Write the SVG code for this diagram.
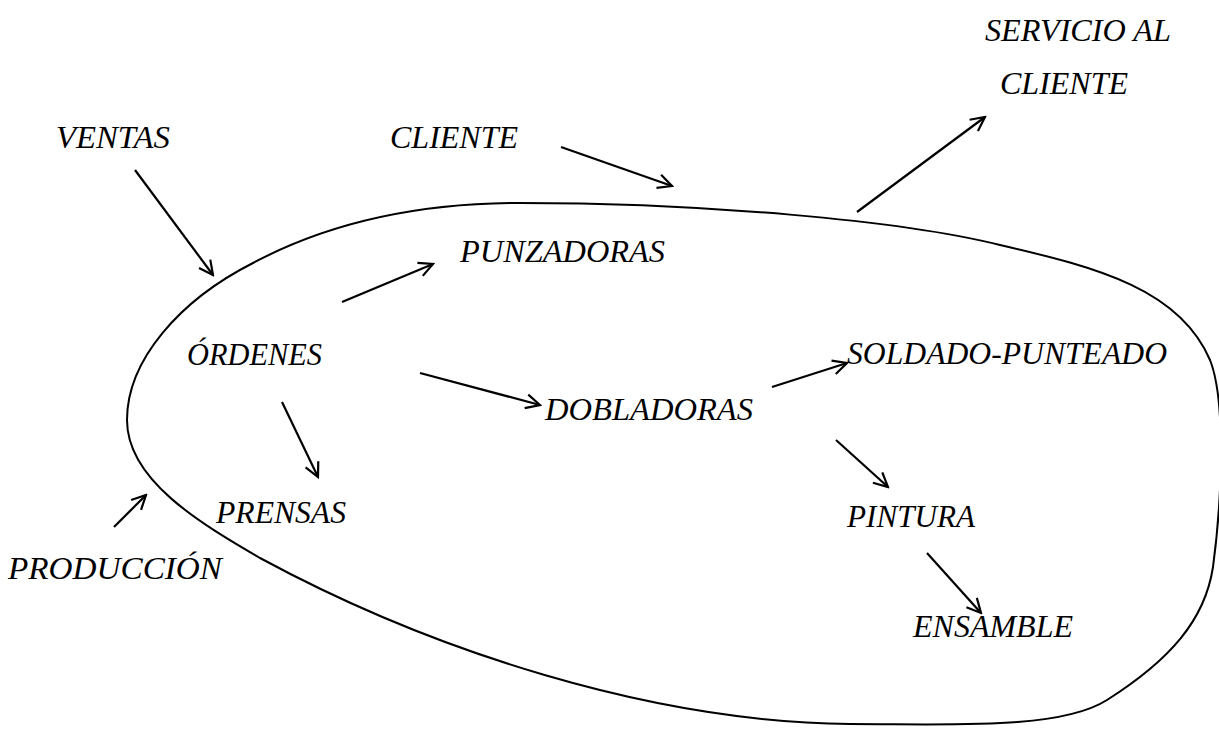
<svg xmlns="http://www.w3.org/2000/svg" width="1219" height="733" viewBox="0 0 1219 733">
<style>
text{font-family:"Liberation Serif","Times New Roman",serif;font-style:italic;font-size:31px;fill:#000}
.c{fill:none;stroke:#000;stroke-width:2}
.a{fill:none;stroke:#000;stroke-width:2.2;marker-end:url(#h)}
</style>
<defs>
<marker id="h" viewBox="0 0 20 20" refX="18" refY="10" markerWidth="20" markerHeight="20" markerUnits="userSpaceOnUse" orient="auto">
<path d="M4,3 L18,10 L4,17" fill="none" stroke="#000" stroke-width="2.2"/>
</marker>
</defs>
<rect width="1219" height="733" fill="#fff"/>
<g id="boundary">
<path class="c" d="M127,420 C127,360 180,300 253,263 C330,222 420,203 520,203 C700,203 900,220 1000,245 C1100,268 1180,290 1210,360 C1226,400 1222,500 1213,567 C1205,620 1170,660 1107,700 C1060,730 950,724 850,724 C650,722 430,650 260,558 C200,523 127,480 127,420 Z"/>
</g>
<g id="servicio"><text x="985" y="41" textLength="186" lengthAdjust="spacingAndGlyphs">SERVICIO AL</text><text x="1000" y="94" textLength="128" lengthAdjust="spacingAndGlyphs">CLIENTE</text></g>
<g id="ventas"><text x="56" y="148" textLength="114" lengthAdjust="spacingAndGlyphs">VENTAS</text></g>
<g id="cliente"><text x="390" y="148" textLength="128" lengthAdjust="spacingAndGlyphs">CLIENTE</text></g>
<g id="punzadoras"><text x="460" y="262" textLength="205" lengthAdjust="spacingAndGlyphs">PUNZADORAS</text></g>
<g id="ordenes"><text x="187" y="365" textLength="135" lengthAdjust="spacingAndGlyphs">ÓRDENES</text></g>
<g id="soldado"><text x="847" y="364" textLength="320" lengthAdjust="spacingAndGlyphs">SOLDADO-PUNTEADO</text></g>
<g id="dobladoras"><text x="545" y="420" textLength="208" lengthAdjust="spacingAndGlyphs">DOBLADORAS</text></g>
<g id="prensas"><text x="216" y="523" textLength="130" lengthAdjust="spacingAndGlyphs">PRENSAS</text></g>
<g id="pintura"><text x="847" y="527" textLength="128" lengthAdjust="spacingAndGlyphs">PINTURA</text></g>
<g id="produccion"><text x="8" y="579" textLength="214" lengthAdjust="spacingAndGlyphs">PRODUCCIÓN</text></g>
<g id="ensamble"><text x="913" y="637" textLength="160" lengthAdjust="spacingAndGlyphs">ENSAMBLE</text></g>
<g id="connectors">
<line class="a" x1="135" y1="170" x2="213" y2="275"/>
<line class="a" x1="561" y1="147" x2="672" y2="186"/>
<line class="a" x1="857" y1="212" x2="985" y2="117"/>
<line class="a" x1="342" y1="302" x2="433" y2="264"/>
<line class="a" x1="420" y1="373" x2="540" y2="405"/>
<line class="a" x1="282" y1="402" x2="318" y2="477"/>
<line class="a" x1="114" y1="527" x2="146" y2="495"/>
<line class="a" x1="772" y1="387" x2="847" y2="363"/>
<line class="a" x1="836" y1="440" x2="888" y2="487"/>
<line class="a" x1="927" y1="553" x2="981" y2="613"/>
</g>
</svg>
